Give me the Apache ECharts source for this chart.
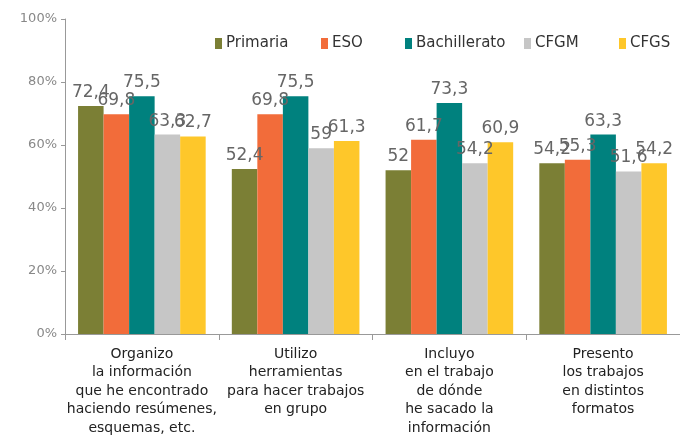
<!DOCTYPE html>
<html><head><meta charset="utf-8">
<script src="https://cdn.jsdelivr.net/npm/echarts@6/dist/echarts.min.js"></script>
<style>html,body{margin:0;padding:0;background:#fff}#c{width:680px;height:436px}</style>
</head><body><div id="c"></div>
<script>
const categories = [
  "Organizo\nla información\nque he encontrado\nhaciendo resúmenes,\nesquemas, etc.",
  "Utilizo\nherramientas\npara hacer trabajos\nen grupo",
  "Incluyo\nen el trabajo\nde dónde\nhe sacado la\ninformación",
  "Presento\nlos trabajos\nen distintos\nformatos"
];
const seriesNames = ["Primaria", "ESO", "Bachillerato", "CFGM", "CFGS"];
const primaria = [72.4, 52.4, 52, 54.2];
const eso = [69.8, 69.8, 61.7, 55.3];
const bachillerato = [75.5, 75.5, 73.3, 63.3];
const cfgm = [63.3, 59, 54.2, 51.6];
const cfgs = [62.7, 61.3, 60.9, 54.2];
const yTicks = [0, 20, 40, 60, 80, 100];
const colors = ["#7b7f35", "#f26c3a", "#00817e", "#c6c6c6", "#fec72a"];
const values = [primaria, eso, bachillerato, cfgm, cfgs];
const legendLeft = [210, 316, 400, 519, 614];
const font = "DejaVu Sans";
const chart = echarts.init(document.getElementById('c'));
chart.setOption({
  animation: false,
  textStyle: {fontFamily: font},
  legend: seriesNames.map((n, i) => ({
    top: 31, left: legendLeft[i], itemWidth: 7, itemHeight: 11,
    icon: 'rect',
    textStyle: {fontFamily: font, fontSize: 15, color: '#333', padding: [0,0,0,-1]},
    data: [n]
  })),
  grid: {left: 65, right: 0, top: 19, bottom: 102, outerBoundsMode: 'none', containLabel: false},
  xAxis: {
    type: 'category', data: categories,
    axisLine: {lineStyle: {color: '#999'}},
    axisTick: {show: true, length: 6, lineStyle: {color: '#999'}},
    axisLabel: {interval: 0, color: '#222', fontSize: 14, lineHeight: 18.5, margin: 11, fontFamily: font}
  },
  yAxis: {
    type: 'value', min: yTicks[0], max: yTicks[yTicks.length-1], interval: 20,
    axisLine: {show: true, lineStyle: {color: '#999'}},
    axisTick: {show: true, length: 4, lineStyle: {color: '#999'}},
    splitLine: {show: false},
    axisLabel: {color: '#888', fontSize: 13, margin: 8, fontFamily: font, formatter: v => v + '%'}
  },
  series: seriesNames.map((n, i) => ({
    name: n, type: 'bar', data: values[i],
    barGap: '0%', barCategoryGap: '17%',
    itemStyle: {color: colors[i]},
    label: {show: true, position: 'top', distance: 5, color: '#666', fontSize: 17, fontFamily: font,
      formatter: p => String(p.value).replace('.', ',')}
  }))
});
</script></body></html>
